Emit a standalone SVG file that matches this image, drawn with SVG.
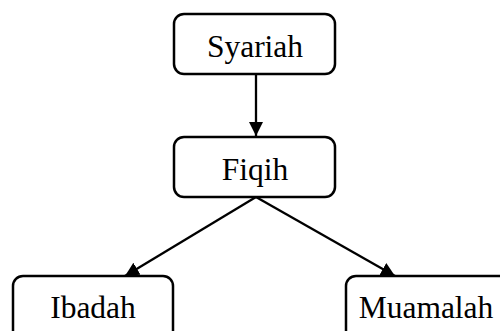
<svg xmlns="http://www.w3.org/2000/svg" width="500" height="331" viewBox="0 0 500 331">
<style>
.box{fill:#fff;stroke:#000;stroke-width:2.5}
.lbl{font-family:"Liberation Serif","Times New Roman",serif;font-size:31.5px;fill:#000;text-anchor:middle}
.edge{stroke:#000;stroke-width:2.3;fill:none;marker-end:url(#arr)}
</style>
<defs>
<marker id="arr" markerUnits="userSpaceOnUse" markerWidth="16" markerHeight="16" refX="14" refY="7" orient="auto">
<path d="M0,0 L14,7 L0,14 Z" fill="#000"/>
</marker>
</defs>
<rect width="500" height="331" fill="#fff"/>
<g id="connectors">
<line class="edge" x1="256" y1="74" x2="256" y2="136"/>
<line class="edge" x1="256" y1="197" x2="125" y2="276"/>
<line class="edge" x1="256" y1="197" x2="395" y2="276"/>
</g>
<g id="syariah">
<rect class="box" x="174" y="14" width="161" height="60" rx="10"/>
<text class="lbl" x="255" y="57">Syariah</text>
</g>
<g id="fiqih">
<rect class="box" x="174" y="137" width="161" height="60" rx="10"/>
<text class="lbl" x="255" y="180">Fiqih</text>
</g>
<g id="ibadah">
<rect class="box" x="13" y="276" width="160" height="70" rx="10"/>
<text class="lbl" x="93" y="318">Ibadah</text>
</g>
<g id="muamalah">
<rect class="box" x="346" y="276" width="170" height="70" rx="10"/>
<text class="lbl" x="426" y="318">Muamalah</text>
</g>
</svg>
